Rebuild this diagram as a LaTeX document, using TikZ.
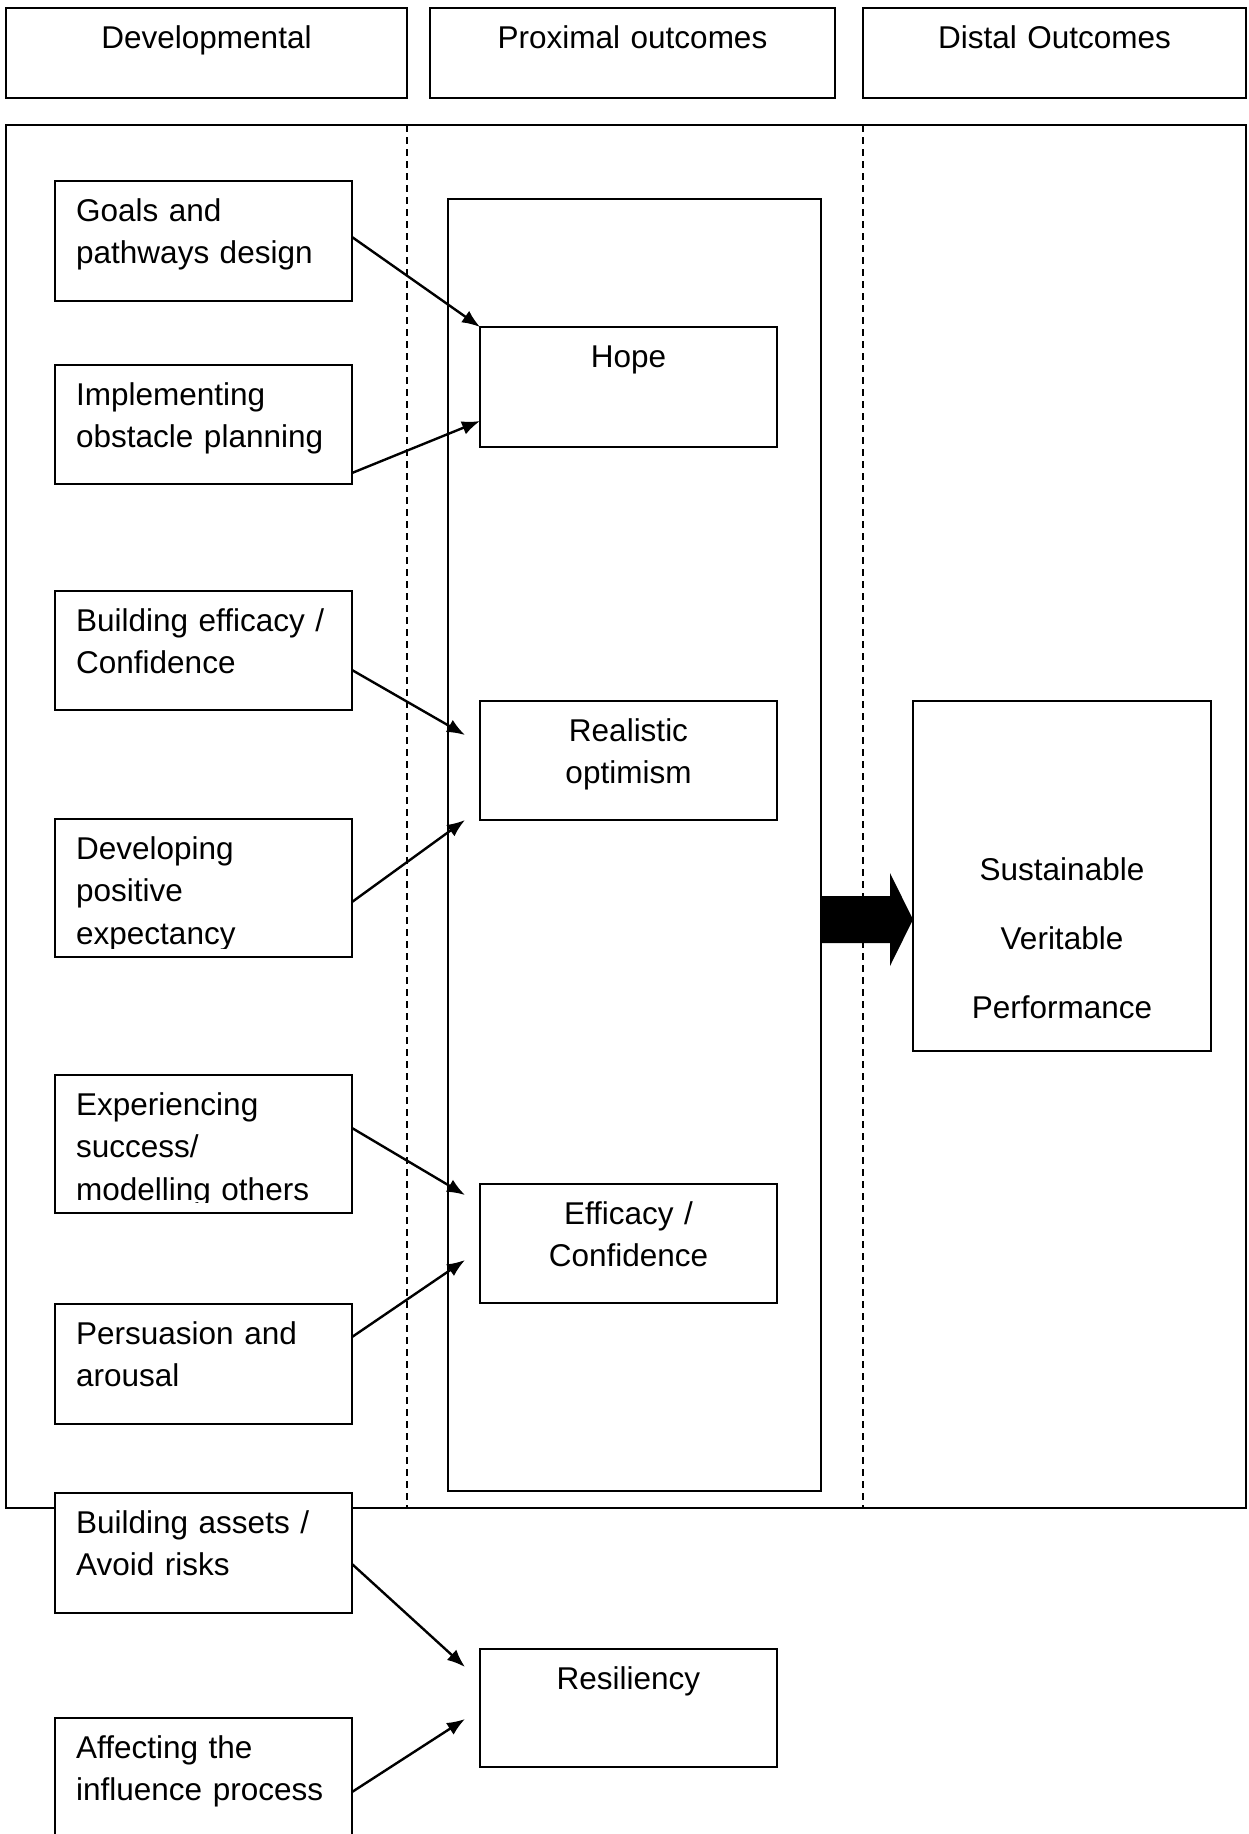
\documentclass[tikz,border=0pt]{standalone}
\usepackage{fontspec}
\setmainfont{Liberation Sans}
\usetikzlibrary{arrows.meta,calc}
\newcommand\fsz{\fontsize{31.5}{42.5}\selectfont}
\newcommand\fszwide{\fontsize{31.5}{69}\selectfont}
\begin{document}
\begin{tikzpicture}[x=1pt,y=-1pt,
  frame/.style={draw=black,line width=2pt,fill=white,inner sep=0pt,outer sep=0pt},
  ltxt/.style={inner sep=0pt,text width=285pt,align=left,anchor=base west,font=\fsz},
  ctxt/.style={inner sep=0pt,text width=290pt,align=center,anchor=base,font=\fsz},
  conn/.style={line width=2.4pt,-{Latex[length=18pt,width=14pt]}},
  sepline/.style={line width=1.5pt,dash pattern=on 7pt off 5pt}]
\fill[white] (0,0) rectangle (1248,1834);
\useasboundingbox (0,0) rectangle (1248,1834);

% header boxes
\node[frame,minimum width=401pt,minimum height=90pt] (hdev) at (206.5,53) {};
\node[frame,minimum width=405pt,minimum height=90pt] (hprox) at (632.5,53) {};
\node[frame,minimum width=383pt,minimum height=90pt] (hdist) at (1054.5,53) {};
\node[ctxt] (hdevt) at (206.5,48) {Developmental};
\node[ctxt] (hproxt) at (632.5,48) {Proximal outcomes};
\node[ctxt] (hdistt) at (1054.5,48) {Distal Outcomes};

% main frame and separators
\node[frame,minimum width=1240pt,minimum height=1383pt] (main) at (626,816.5) {};
\coordinate (s1a) at (407,125); \coordinate (s1b) at (407,1508);
\coordinate (s2a) at (863,125); \coordinate (s2b) at (863,1508);
\draw[sepline] (s1a) -- (s1b);
\draw[sepline] (s2a) -- (s2b);

% tall proximal box
\node[frame,minimum width=373pt,minimum height=1292pt] (tall) at (634.5,845) {};

% left boxes
\node[frame,minimum width=297pt,minimum height=120pt] (goals) at (203.5,241) {};
\node[frame,minimum width=297pt,minimum height=119pt] (impl) at (203.5,424.5) {};
\node[frame,minimum width=297pt,minimum height=119pt] (beff) at (203.5,650.5) {};
\node[frame,minimum width=297pt,minimum height=138pt] (dev) at (203.5,888) {};
\node[frame,minimum width=297pt,minimum height=138pt] (exp) at (203.5,1144) {};
\node[frame,minimum width=297pt,minimum height=120pt] (pers) at (203.5,1364) {};
\node[frame,minimum width=297pt,minimum height=120pt] (bass) at (203.5,1553) {};
\node[frame,minimum width=297pt,minimum height=132pt] (aff) at (203.5,1784) {};

\node[ltxt] (goalst) at (76,221) {Goals and\\pathways design};
\node[ltxt] (implt) at (76,405) {Implementing\\obstacle planning};
\node[ltxt] (befft) at (76,631) {Building efficacy /\\Confidence};
\begin{scope}
\clip (55,819) rectangle (352,948);
\node[ltxt] (devt) at (76,859) {Developing\\positive\\expectancy};
\end{scope}
\begin{scope}
\clip (55,1075) rectangle (352,1202);
\node[ltxt] (expt) at (76,1115) {Experiencing\\success/\\modelling others};
\end{scope}
\node[ltxt] (perst) at (76,1344) {Persuasion and\\arousal};
\node[ltxt] (basst) at (76,1533) {Building assets /\\Avoid risks};
\node[ltxt] (afft) at (76,1758) {Affecting the\\influence process};

% right boxes
\node[frame,minimum width=297pt,minimum height=120pt] (hope) at (628.5,387) {};
\node[frame,minimum width=297pt,minimum height=119pt] (real) at (628.5,760.5) {};
\node[frame,minimum width=297pt,minimum height=119pt] (effi) at (628.5,1243.5) {};
\node[frame,minimum width=297pt,minimum height=118pt] (res) at (628.5,1708) {};
\node[ctxt] (hopet) at (628.5,367) {Hope};
\node[ctxt] (realt) at (628.5,741) {Realistic\\optimism};
\node[ctxt] (effit) at (628.5,1224) {Efficacy /\\Confidence};
\node[ctxt] (rest) at (628.5,1689) {Resiliency};

% distal box
\node[frame,minimum width=298pt,minimum height=350pt] (sust) at (1062,876) {};
\node[ctxt,font=\fszwide] (sustt) at (1062,880) {Sustainable\\Veritable\\Performance};

% fat arrow
\fill[black] (821,896) -- (890,896) -- (890,873) -- (913,919.5) -- (890,966) -- (890,943) -- (821,943) -- cycle;

% connectors
\draw[conn] ($(goals.east)+(0,-4)$) -- (hope.north west);
\draw[conn] ($(impl.east)+(0,48.5)$) -- ($(hope.west)+(0,34)$);
\draw[conn] ($(beff.east)+(0,19.5)$) -- ($(real.west)+(-15,-25.5)$);
\draw[conn] ($(dev.east)+(0,14)$) -- ($(real.west)+(-15,59.5)$);
\draw[conn] ($(exp.east)+(0,-16)$) -- ($(effi.west)+(-15,-48.5)$);
\draw[conn] ($(pers.east)+(0,-27)$) -- ($(effi.west)+(-15,16.5)$);
\draw[conn] ($(bass.east)+(0,11)$) -- ($(res.west)+(-15,-41)$);
\draw[conn] ($(aff.east)+(0,8)$) -- ($(res.west)+(-15,11)$);
\end{tikzpicture}
\end{document}
